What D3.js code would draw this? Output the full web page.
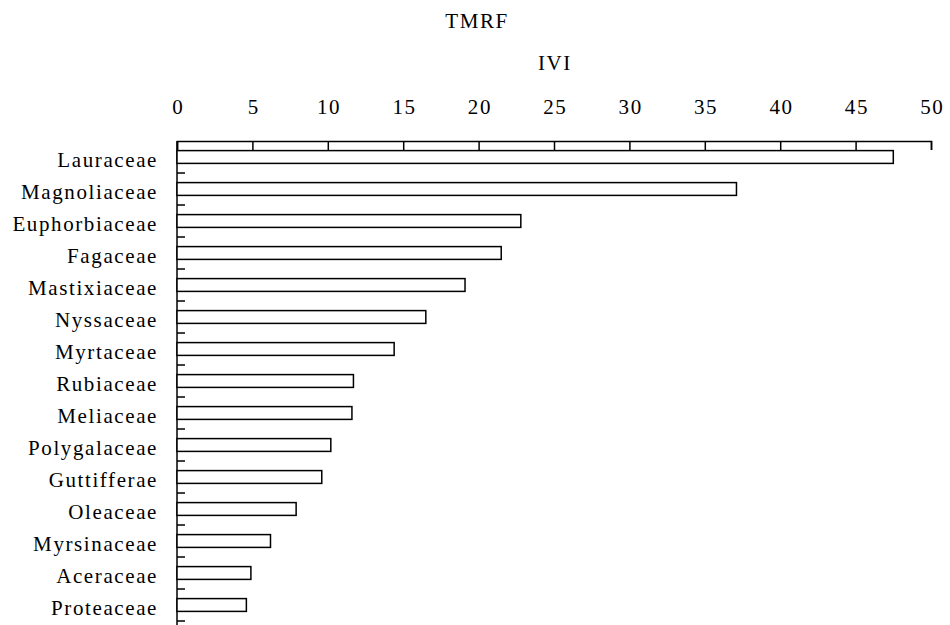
<!DOCTYPE html>
<html>
<head>
<meta charset="utf-8">
<script src="https://cdn.jsdelivr.net/npm/d3@7"></script>
<style>
  body { margin: 0; background: #fff; }
  text { font-family: "Liberation Serif", "Times New Roman", serif; fill: #000; letter-spacing: 1.6px; }
</style>
</head>
<body>
<script>
const width = 950;
const height = 625;

// families, top to bottom
const families = ["Lauraceae", "Magnoliaceae", "Euphorbiaceae", "Fagaceae", "Mastixiaceae",
    "Nyssaceae", "Myrtaceae", "Rubiaceae", "Meliaceae", "Polygalaceae",
    "Guttifferae", "Oleaceae", "Myrsinaceae", "Aceraceae", "Proteaceae"];
// importance value index
const ivi = [47.5, 37.1, 22.8, 21.5, 19.1, 16.5, 14.4, 11.7, 11.6, 10.2, 9.6, 7.9, 6.2, 4.9, 4.6];
const xTicks = [0, 5, 10, 15, 20, 25, 30, 35, 40, 45, 50];

const svg = d3.select("body").append("svg")
    .attr("width", width)
    .attr("height", height);

const x = d3.scaleLinear().domain([0, 50]).range([177, 931]);
const y = d3.scaleBand().domain(families).range([141, 621])
    .paddingInner(0.6).paddingOuter(0.3);

// top axis, ticks pointing down
const xAxis = svg.append("g")
    .attr("transform", "translate(0,141)")
    .call(d3.axisTop(x).tickValues(xTicks).tickSize(-9).tickSizeOuter(-9).tickPadding(27));
xAxis.select(".domain").attr("stroke", "#000").attr("stroke-width", 1.5);
xAxis.selectAll(".tick line").attr("stroke", "#000").attr("stroke-width", 1.5);
xAxis.selectAll("text")
    .attr("font-size", 21)
    .attr("font-family", "Liberation Serif")
    .attr("dx", "0.8px");

// left axis line
svg.append("line")
    .attr("x1", 177).attr("x2", 177)
    .attr("y1", 141).attr("y2", 625)
    .attr("stroke", "#000").attr("stroke-width", 1.5);

// band boundary ticks
svg.selectAll(".btick")
    .data(families)
    .enter().append("line")
    .attr("class", "btick")
    .attr("x1", 177).attr("x2", 185)
    .attr("y1", (d) => y(d) - y.step() * y.paddingOuter() + y.step())
    .attr("y2", (d) => y(d) - y.step() * y.paddingOuter() + y.step())
    .attr("stroke", "#000").attr("stroke-width", 1.5);

// category labels
svg.selectAll(".lab")
    .data(families)
    .enter().append("text")
    .attr("class", "lab")
    .attr("x", 158)
    .attr("y", (d) => y(d) + y.bandwidth() / 2)
    .attr("dy", "0.48em")
    .attr("text-anchor", "end")
    .attr("font-size", 21)
    .text((d) => d);

// bars
svg.selectAll(".bar")
    .data(families)
    .enter().append("rect")
    .attr("class", "bar")
    .attr("x", x(0))
    .attr("y", (d) => y(d))
    .attr("width", (d, i) => x(ivi[i]) - x(0))
    .attr("height", y.bandwidth())
    .attr("fill", "#fff")
    .attr("stroke", "#000")
    .attr("stroke-width", 1.5);

// titles
svg.append("text")
    .attr("x", 477).attr("y", 28)
    .attr("text-anchor", "middle")
    .attr("font-size", 21)
    .text("TMRF");

svg.append("text")
    .attr("x", x(25) + 1).attr("y", 70)
    .attr("text-anchor", "middle")
    .attr("font-size", 21)
    .text("IVI");
</script>
</body>
</html>
